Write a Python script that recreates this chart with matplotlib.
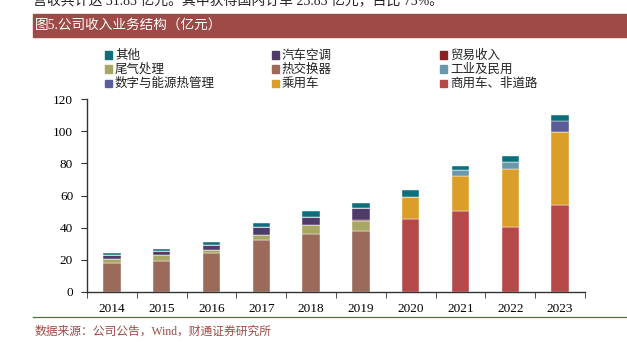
import numpy as np
import matplotlib.pyplot as plt
from matplotlib.patches import Rectangle

plt.rcParams['font.family'] = ['Liberation Serif', 'Noto Sans CJK SC']

years = ['2014', '2015', '2016', '2017', '2018', '2019', '2020', '2021', '2022', '2023']

# stacked from bottom to top (亿元)
heat_exchanger = [18.0, 19.0, 24.0, 32.3, 35.8, 38.0, 0, 0, 0, 0]
exhaust = [2.5, 4.2, 2.0, 3.4, 5.6, 6.2, 0, 0, 0, 0]
trade = [0, 0, 0, 0, 0, 0.5, 0, 0, 0, 0]
car_ac = [2.5, 2.3, 3.3, 5.0, 5.4, 7.8, 0, 0, 0, 0]
commercial = [0, 0, 0, 0, 0, 0, 45.4, 50.2, 40.6, 54.1]
passenger = [0, 0, 0, 0, 0, 0, 13.5, 22.2, 35.7, 45.4]
industrial = [0, 0, 0, 0, 0, 0, 0, 3.5, 4.8, 0]
digital = [0, 0, 0, 0, 0, 0, 0, 0, 0, 6.7]
other = [1.0, 1.5, 1.7, 2.3, 3.4, 2.7, 4.5, 2.3, 3.5, 3.8]

series = [
    ('热交换器', heat_exchanger, '#9B6A5B'),
    ('尾气处理', exhaust, '#A9A766'),
    ('贸易收入', trade, '#8A1F24'),
    ('汽车空调', car_ac, '#4F3B69'),
    ('商用车、非道路', commercial, '#B5494A'),
    ('乘用车', passenger, '#DB9E29'),
    ('工业及民用', industrial, '#6A97A9'),
    ('数字与能源热管理', digital, '#5B5D9B'),
    ('其他', other, '#0D6F7B'),
]
legend_order = ['其他', '尾气处理', '数字与能源热管理',
                '汽车空调', '热交换器', '乘用车',
                '贸易收入', '工业及民用', '商用车、非道路']

banner = '#9E4B47'
axis_col = '#333333'
W, H = 627.0, 342.0

fig = plt.figure(figsize=(6.27, 3.42), dpi=100)
ax = fig.add_axes([0.1388, 0.1462, 0.7942, 0.5643])

x = np.arange(len(years))
bottom = np.zeros(len(years))
colors = {}
for name, vals, col in series:
    vals = np.array(vals, dtype=float)
    ax.bar(x, vals, width=0.35, bottom=bottom, color=col,
           edgecolor='white', linewidth=0.3)
    bottom += vals
    colors[name] = col

ax.set_xlim(-0.5, len(years) - 0.5)
ax.set_ylim(0, 120)
ax.set_yticks(np.arange(0, 121, 20))
ax.set_xticks(x)
ax.set_xticklabels(years)
ax.set_xticks(np.arange(-0.5, len(years), 1), minor=True)
ax.tick_params(axis='x', which='major', length=0, pad=8, labelsize=9.5)
ax.tick_params(axis='x', which='minor', length=4, direction='out', color=axis_col)
ax.tick_params(axis='y', length=4, direction='out', color=axis_col, labelsize=9.5, pad=6)
for s in ['top', 'right']:
    ax.spines[s].set_visible(False)
for s in ['left', 'bottom']:
    ax.spines[s].set_color(axis_col)
    ax.spines[s].set_linewidth(1.0)

# legend, laid out by hand in three columns
col_x = [105, 272, 440]
row_y = [55, 69, 83]
for i, name in enumerate(legend_order):
    cx = col_x[i // 3]
    cy = row_y[i % 3]
    fig.patches.append(Rectangle((cx / W, 1 - (cy + 3.5) / H), 7 / W, 7 / H,
                                 transform=fig.transFigure, color=colors[name]))
    fig.text((cx + 10) / W, 1 - cy / H, name, fontsize=9, va='center', ha='left',
             family=['Noto Sans CJK SC'], color='#222222')

# title banner
fig.patches.append(Rectangle((32.7 / W, 1 - 36.5 / H), 1 - 32.7 / W, 22.5 / H,
                             transform=fig.transFigure, color=banner, zorder=0))
fig.text(35 / W, 1 - 25.5 / H, '图5.公司收入业务结构（亿元）', color='white',
         fontsize=9.8, va='center', ha='left')

# cut off line from the page above
fig.text(33 / W, 1.0, '营收共计达 31.83 亿元。其中获得国内订单 23.83 亿元，占比 75%。',
         fontsize=10, va='center', ha='left', color='#222222')

# footer
fig.add_artist(plt.Line2D([32.7 / W, 1], [1 - 316.7 / H] * 2,
                          transform=fig.transFigure, color=banner, linewidth=0.9))
fig.text(35 / W, 1 - 331.5 / H, '数据来源：公司公告，Wind，财通证券研究所',
         color=banner, fontsize=8.5, va='center', ha='left')

fig.savefig('out.png', dpi=100)
